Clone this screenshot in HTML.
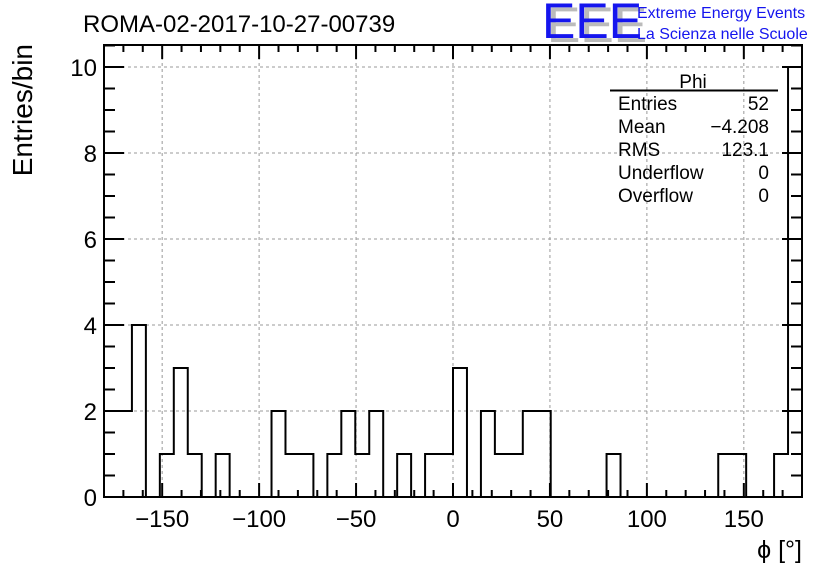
<!DOCTYPE html>
<html><head><meta charset="utf-8"><style>
html,body{margin:0;padding:0;background:#fff}
svg{display:block;font-family:"Liberation Sans",Arial,sans-serif}
</style></head><body>
<svg width="836" height="572" viewBox="0 0 836 572" xmlns="http://www.w3.org/2000/svg">
<rect width="836" height="572" fill="#fff"/>
<g id="grid"></g>
<g id="hist"></g>
<rect x="104" y="45" width="698" height="452" fill="none" stroke="#000" stroke-width="2"/>
<g id="ticks"></g>
<g id="labels" font-size="24"></g>
<text x="83" y="32" font-size="24">ROMA-02-2017-10-27-00739</text>
<text x="0" y="0" font-size="28" text-anchor="end" transform="translate(32,44) rotate(-90)">Entries/bin</text>
<text x="802" y="558" font-size="25" text-anchor="end">ϕ [°]</text>
<g>
<text x="547" y="42" font-size="50" fill="#bbb" letter-spacing="0">EEE</text>
<text x="542" y="38" font-size="50" fill="#1515ee" letter-spacing="0">EEE</text>
<text x="637" y="18" font-size="16" fill="#1515ee">Extreme Energy Events</text>
<text x="637" y="39" font-size="16" fill="#1515ee">La Scienza nelle Scuole</text>
</g>
<g font-size="19">
<text x="693" y="88" text-anchor="middle">Phi</text>
<line x1="610" y1="90.5" x2="778" y2="90.5" stroke="#000" stroke-width="2"/>
<text x="618" y="110">Entries</text><text x="769" y="110" text-anchor="end">52</text>
<text x="618" y="133">Mean</text><text x="769" y="133" text-anchor="end">−4.208</text>
<text x="618" y="156">RMS</text><text x="769" y="156" text-anchor="end">123.1</text>
<text x="618" y="179">Underflow</text><text x="769" y="179" text-anchor="end">0</text>
<text x="618" y="202">Overflow</text><text x="769" y="202" text-anchor="end">0</text>
</g>
</svg>
<script>
const binCounts=[2,2,4,0,1,3,1,0,1,0,0,0,2,1,1,0,1,2,1,2,0,1,0,1,1,3,0,2,1,1,2,2,0,0,0,0,1,0,0,0,0,0,0,0,1,1,0,0,1,10];
const xMin=-180, xMax=180;
const xTickLabels=[-150,-100,-50,0,50,100,150];
const yTickLabels=[0,2,4,6,8,10];
const NS="http://www.w3.org/2000/svg";
const L=104,R=802,T=45,B=497,yPer=43;
const xs=v=>L+(v-xMin)/(xMax-xMin)*(R-L);
const ys=v=>B-v*yPer;
function mk(tag,attrs,parent){const e=document.createElementNS(NS,tag);for(const k in attrs)e.setAttribute(k,attrs[k]);parent.appendChild(e);return e;}
const grid=document.getElementById('grid'),hist=document.getElementById('hist'),ticks=document.getElementById('ticks'),labels=document.getElementById('labels');
xTickLabels.forEach(v=>{const g=mk('line',{x1:xs(v),x2:xs(v),y1:T,y2:B,stroke:'#999','stroke-dasharray':'3,3','stroke-width':1},grid);

});
yTickLabels.forEach(v=>{const g=mk('line',{x1:L,x2:R,y1:ys(v),y2:ys(v),stroke:'#999','stroke-dasharray':'3,3','stroke-width':1},grid);

});
const w=(xMax-xMin)/binCounts.length;
let d='M'+xs(xMin)+','+B;
binCounts.forEach((c,i)=>{const x0=xs(xMin+i*w),x1=xs(xMin+(i+1)*w);d+=' L'+x0+','+ys(c)+' L'+x1+','+ys(c);});
d+=' L'+xs(xMax)+','+B;
const p=mk('path',{d:d,fill:'none',stroke:'#000','stroke-width':2},hist);


for(let v=-170;v<=170;v+=10){const major=v%50===0;const len=major?14:7;
mk('line',{x1:xs(v),x2:xs(v),y1:B,y2:B-len,stroke:'#000','stroke-width':2},ticks);
mk('line',{x1:xs(v),x2:xs(v),y1:T,y2:T+len,stroke:'#000','stroke-width':2},ticks);}
for(let v=0;v<=10.5;v+=0.5){const major=v%2===0;const len=major?20:11;
mk('line',{x1:L,x2:L+len,y1:ys(v),y2:ys(v),stroke:'#000','stroke-width':2},ticks);
mk('line',{x1:R,x2:R-len,y1:ys(v),y2:ys(v),stroke:'#000','stroke-width':2},ticks);}
xTickLabels.forEach(v=>{const t=mk('text',{x:xs(v),y:527,'text-anchor':'middle'},labels);t.textContent=v<0?'−'+Math.abs(v):String(v);

});
yTickLabels.forEach(v=>{const t=mk('text',{x:97,y:ys(v)+9,'text-anchor':'end'},labels);t.textContent=String(v);

});
</script>
</body></html>
